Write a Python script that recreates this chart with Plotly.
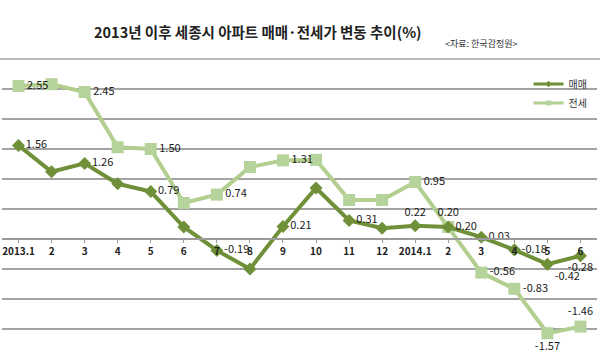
import plotly.graph_objects as go

categories = ["2013.1", "2", "3", "4", "5", "6", "7", "8", "9", "10", "11", "12",
              "2014.1", "2", "3", "4", "5", "6"]
maemae = [1.56, 1.12, 1.26, 0.92, 0.79, 0.20, -0.19, -0.50, 0.21, 0.85, 0.31, 0.18,
          0.22, 0.20, 0.03, -0.18, -0.42, -0.28]
jeonse = [2.55, 2.58, 2.45, 1.53, 1.50, 0.60, 0.74, 1.20, 1.31, 1.32, 0.65, 0.65,
          0.95, 0.20, -0.56, -0.83, -1.57, -1.46]

maemae_labels = ["1.56", "", "1.26", "", "0.79", "", "-0.19", "", "0.21", "", "0.31", "",
                 "0.22", "0.20", "0.03", "-0.18", "-0.42", "-0.28"]
maemae_pos = ["middle right"] * 18
maemae_pos[12] = "top center"
maemae_pos[16] = "bottom right"
maemae_pos[17] = "bottom center"

jeonse_labels = ["2.55", "", "2.45", "", "1.50", "", "0.74", "", "1.31", "", "", "",
                 "0.95", "0.20", "-0.56", "-0.83", "-1.57", "-1.46"]
jeonse_pos = ["middle right"] * 18
jeonse_pos[13] = "top center"
jeonse_pos[16] = "bottom center"
jeonse_pos[17] = "top center"

x = list(range(len(categories)))
FONT = "Noto Sans CJK KR"
dark = "#6f9038"
light = "#b2cf8f"

fig = go.Figure()
fig.add_trace(go.Scatter(
    x=x, y=jeonse, name="전세", mode="lines+markers+text", showlegend=False,
    line=dict(color=light, width=4),
    marker=dict(symbol="square", size=12, color="#b6d39c"),
    text=jeonse_labels, textposition=jeonse_pos,
    textfont=dict(family=FONT, size=11, color="#1a1a1a"),
))
fig.add_trace(go.Scatter(
    x=x, y=maemae, name="매매", mode="lines+markers+text", showlegend=False,
    line=dict(color=dark, width=4),
    marker=dict(symbol="diamond", size=10, color=dark),
    text=maemae_labels, textposition=maemae_pos,
    textfont=dict(family=FONT, size=11, color="#1a1a1a"),
))
# legend-only entries with small markers
fig.add_trace(go.Scatter(x=[None], y=[None], name="매매", mode="lines+markers",
                         line=dict(color=dark, width=3),
                         marker=dict(symbol="diamond", size=5, color=dark)))
fig.add_trace(go.Scatter(x=[None], y=[None], name="전세", mode="lines+markers",
                         line=dict(color=light, width=3),
                         marker=dict(symbol="square", size=5, color="#b6d39c")))

fig.update_layout(
    width=600, height=361,
    margin=dict(l=2, r=3, t=59, b=2),
    paper_bgcolor="white", plot_bgcolor="white",
    font=dict(family=FONT),
    legend=dict(x=0.885, y=0.965, xanchor="left", yanchor="top",
                font=dict(size=10, color="#333333"),
                bgcolor="rgba(0,0,0,0)", itemwidth=30, tracegroupgap=0),
    xaxis=dict(
        tickmode="array", tickvals=x, ticktext=categories,
        range=[-0.5, len(categories) - 0.5],
        anchor="free", position=0.4, automargin=False,
        showline=True, linecolor="#9a9a9a", linewidth=2,
        ticks="outside", ticklen=3, tickcolor="#9a9a9a",
        showgrid=False, zeroline=False,
        tickfont=dict(family=FONT, size=10, color="#222222", weight="bold"),
    ),
    yaxis=dict(
        range=[-2.0, 3.0], dtick=0.5, tick0=0, automargin=False,
        showticklabels=False, showgrid=True, gridcolor="#a3a3a3", gridwidth=1.6,
        zeroline=False, showline=False,
    ),
    annotations=[
        dict(text="<b>2013년 이후 세종시 아파트 매매·전세가 변동 추이(%)</b>",
             x=0.43, y=1.093, xref="paper", yref="paper", showarrow=False,
             xanchor="center", yanchor="middle",
             font=dict(family=FONT, size=14.5, color="#222222")),
        dict(text="<자료: 한국감정원>",
             x=0.805, y=1.05, xref="paper", yref="paper", showarrow=False,
             xanchor="center", yanchor="middle",
             font=dict(family=FONT, size=9, color="#333333")),
    ],
)
fig.add_shape(type="line", xref="paper", yref="paper", x0=-0.01, x1=1.01, y0=1, y1=1,
              line=dict(color="#a3a3a3", width=1.6))

fig.write_html("out.html", config={"displayModeBar": False},
               post_script="document.body.style.margin='0';")
